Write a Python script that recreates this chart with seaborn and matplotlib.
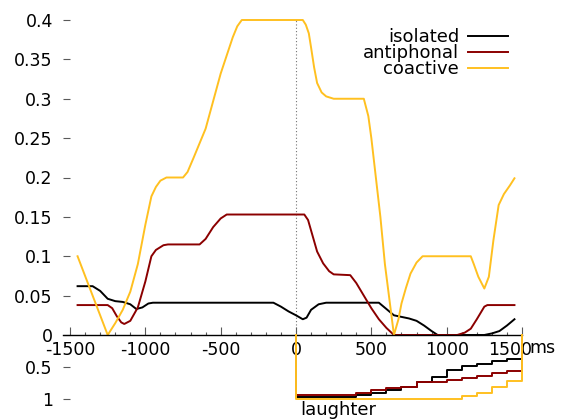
import matplotlib
matplotlib.use('Agg')
import matplotlib.pyplot as plt
import matplotlib.transforms as mtransforms
import seaborn as sns
import pandas as pd

# isolated (black)
iso_ms = [-1450, -1350, -1300, -1250, -1200, -1150, -1100, -1060, -1020, -980, -950,
          -150, -100, -50, 0, 45, 70, 100, 150, 200, 550, 600, 650, 700, 750, 800,
          850, 900, 940, 1250, 1300, 1350, 1400, 1450]
iso_val = [0.062, 0.062, 0.056, 0.046, 0.043, 0.042, 0.039, 0.033, 0.035, 0.040, 0.041,
           0.041, 0.036, 0.030, 0.025, 0.020, 0.022, 0.032, 0.039, 0.041, 0.041, 0.033, 0.025,
           0.023, 0.021, 0.018, 0.012, 0.005, 0.0, 0.0, 0.002, 0.005, 0.012, 0.020]

# antiphonal (dark red)
anti_ms = [-1450, -1250, -1220, -1190, -1160, -1140, -1100, -1050, -1000, -960, -930,
           -880, -850, -640, -600, -550, -500, -460, 55, 80, 110, 140, 180, 220, 250,
           360, 400, 450, 500, 550, 600, 650, 1070, 1120, 1160, 1200, 1250, 1270, 1450]
anti_val = [0.038, 0.038, 0.034, 0.024, 0.016, 0.014, 0.018, 0.035, 0.068, 0.100, 0.108,
            0.114, 0.115, 0.115, 0.122, 0.137, 0.148, 0.153, 0.153, 0.146, 0.126, 0.106,
            0.091, 0.081, 0.077, 0.076, 0.066, 0.050, 0.034, 0.020, 0.009, 0.0, 0.0, 0.003,
            0.008, 0.020, 0.036, 0.038, 0.038]

# coactive (orange)
coac_ms = [-1450, -1400, -1350, -1300, -1250, -1200, -1150, -1100, -1050, -1000, -960,
           -930, -900, -860, -750, -720, -680, -600, -500, -420, -390, -360, 45, 65, 85,
           100, 120, 140, 170, 200, 250, 450, 480, 500, 530, 560, 590, 620, 650, 680, 700,
           730, 760, 800, 840, 1160, 1180, 1210, 1250, 1280, 1310, 1345, 1380, 1420, 1450]
coac_val = [0.100, 0.075, 0.050, 0.025, 0.0, 0.015, 0.032, 0.055, 0.090, 0.140, 0.176,
            0.188, 0.196, 0.200, 0.200, 0.207, 0.225, 0.262, 0.332, 0.378, 0.392, 0.400,
            0.400, 0.394, 0.383, 0.365, 0.340, 0.320, 0.308, 0.303, 0.300, 0.300, 0.278,
            0.250, 0.200, 0.150, 0.090, 0.045, 0.0, 0.020, 0.040, 0.060, 0.078, 0.092,
            0.100, 0.100, 0.090, 0.074, 0.059, 0.074, 0.120, 0.165, 0.179, 0.190, 0.199]

# laughter panel (steps of 100 ms from 0 to 1500)
laugh_edges = list(range(0, 1600, 100))
iso_laugh = [0.97, 0.97, 0.97, 0.97, 0.94, 0.90, 0.86, 0.81, 0.74, 0.65, 0.54, 0.48, 0.45, 0.41, 0.37]
anti_laugh = [0.93, 0.93, 0.93, 0.93, 0.90, 0.86, 0.83, 0.81, 0.74, 0.73, 0.70, 0.67, 0.64, 0.60, 0.56]
coac_laugh = [1.0, 1.0, 1.0, 1.0, 1.0, 1.0, 1.0, 1.0, 1.0, 1.0, 1.0, 0.96, 0.91, 0.82, 0.72]

series = ['isolated', 'antiphonal', 'coactive']
colors = ['black', '#8b0000', '#ffc020']

xticks = [-1500, -1000, -500, 0, 500, 1000, 1500]
xlabels = ['-1500', '-1000', '-500', '0', '500', '1000', '1500']
yticks = [0, 0.05, 0.1, 0.15, 0.2, 0.25, 0.3, 0.35, 0.4]
ylabels = ['0', '0.05', '0.1', '0.15', '0.2', '0.25', '0.3', '0.35', '0.4']

plt.rcParams['font.family'] = ['DejaVu Sans']

W, H = 565, 420
fig = plt.figure(figsize=(W / 100, H / 100), dpi=100)
left, right = 62.5, 522
ax = fig.add_axes([left / W, 85 / H, (right - left) / W, 315 / H])
ax.set_facecolor('none')

curves = [(iso_ms, iso_val), (anti_ms, anti_val), (coac_ms, coac_val)]
for (xs, ys), name, c in zip(curves, series, colors):
    df = pd.DataFrame({'ms': xs, 'val': ys})
    sns.lineplot(data=df, x='ms', y='val', color=c, lw=1.4, label=name,
                 estimator=None, sort=False, ax=ax, clip_on=False)

ax.axvline(0, color='0.45', ls=(0, (1, 2)), lw=0.8, zorder=0)

ax.set_xlim(-1550, 1500)
ax.set_ylim(0, 0.4)
for s in ['top', 'right', 'left']:
    ax.spines[s].set_visible(False)
ax.spines['bottom'].set_linewidth(1.0)
ax.set_xticks(xticks)
ax.set_xticklabels(xlabels)
ax.set_xticks(range(-1500, 1600, 100), minor=True)
ax.set_yticks(yticks)
ax.set_yticklabels(ylabels)
ax.tick_params(axis='x', which='major', direction='in', length=5.8, width=0.8,
               color='0.35', labelsize=12.5, pad=4)
ax.tick_params(axis='x', which='minor', direction='in', length=2.5, width=0.8, color='0.35')
ax.tick_params(axis='y', direction='in', length=5, width=0.8, color='0.35',
               labelsize=12.5, pad=7)
ax.set_xlabel('')
ax.set_ylabel('')

# the last label sits a bit left of its tick, like in the original
lbl = ax.get_xticklabels()[-1]
lbl.set_transform(lbl.get_transform() + mtransforms.ScaledTranslation(-12 / 100, 0, fig.dpi_scale_trans))

ax.legend(loc='upper right', bbox_to_anchor=(0.9695, 0.975), frameon=False,
          markerfirst=False, fontsize=13, handlelength=2.2, handletextpad=0.5,
          labelspacing=-0.11, borderpad=0, borderaxespad=0)

fig.text(529 / W, (H - 339) / H, 'ms', va='top', ha='left', fontsize=12.5)

# laughter panel
bx = fig.add_axes([left / W, 21 / H, (right - left) / W, 64 / H])
bx.set_facecolor('none')
lx = [0] + laugh_edges[:-1] + [laugh_edges[-1], laugh_edges[-1]]
for vals, c in zip([iso_laugh, anti_laugh, coac_laugh], colors):
    ly = [0] + vals + [vals[-1], 0]
    sns.lineplot(x=lx, y=ly, color=c, lw=1.4, drawstyle='steps-post',
                 estimator=None, sort=False, ax=bx, clip_on=False)
bx.set_xlim(-1550, 1500)
bx.set_ylim(1, 0)
for s in bx.spines.values():
    s.set_visible(False)
bx.set_xticks([])
bx.set_yticks([0.5, 1])
bx.set_yticklabels(['0.5', '1'])
bx.tick_params(axis='y', direction='in', length=5, width=0.8, color='0.35',
               labelsize=12.5, pad=7)
bx.set_xlabel('')
bx.set_ylabel('')
bx.text(30, 1.03, 'laughter', va='top', ha='left', fontsize=13)

fig.savefig('out.png', dpi=100)
